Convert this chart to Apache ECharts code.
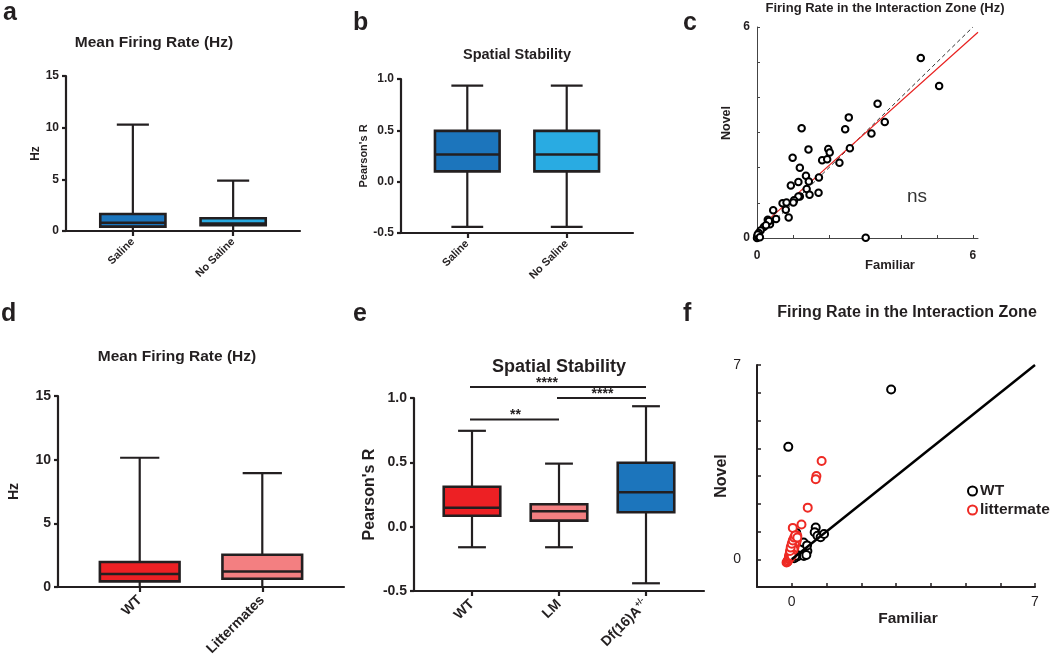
<!DOCTYPE html>
<html><head><meta charset="utf-8">
<script src="https://cdn.jsdelivr.net/npm/echarts@6/dist/echarts.min.js"></script>
<style>html,body{margin:0;padding:0;background:#fff}#c{width:1050px;height:661px}</style>
</head><body><div id="c"></div><script>
const FONT = '"Liberation Sans", Arial, Helvetica, sans-serif';
const INK = '#231f20';

// ---- Panel a: Mean Firing Rate (Hz) ----
const catsA = ['Saline', 'No Saline'];
// [min, q1, median, q3, max]
const statsA = [[0, 0.42, 0.8, 1.65, 10.3], [0, 0.55, 0.72, 1.23, 4.87]];
const colorsA = ['#1c75bc', '#29abe2'];

// ---- Panel b: Spatial Stability ----
const catsB = ['Saline', 'No Saline'];
const statsB = [[-0.44, 0.1, 0.265, 0.495, 0.935], [-0.44, 0.1, 0.265, 0.495, 0.935]];
const colorsB = ['#1c75bc', '#29abe2'];

// ---- Panel c: Firing rate in interaction zone (Familiar vs Novel) ----
const scatterC = [
  [4.55,5.12],[5.06,4.32],[3.35,3.82],[2.55,3.43],[2.45,3.09],[3.55,3.30],[3.18,2.97],
  [1.24,3.12],[1.43,2.52],[1.98,2.53],[2.02,2.43],[2.58,2.55],[0.99,2.28],[1.81,2.21],
  [1.95,2.24],[2.29,2.14],[1.19,2.00],[1.36,1.77],[1.15,1.59],[0.94,1.49],[1.44,1.61],
  [1.72,1.72],[1.38,1.39],[1.46,1.23],[1.71,1.29],[1.19,1.18],[1.15,1.18],[1.03,1.07],
  [1.01,1.01],[0.71,0.99],[0.82,1.01],[0.80,0.80],[0.88,0.58],[0.45,0.79],[0.53,0.54],
  [0.30,0.52],[0.36,0.42],[0.36,0.39],[0.19,0.31],[0.10,0.21],[0.05,0.14],[0.01,0.05],
  [0.0,0.0],[0.04,0.03],[3.02,0.01],[0.33,0.48],[0.25,0.36],[0.02,0.10],[0.08,0.02]
];
const identityC = [[0, 0], [6, 6]];
const fitC = [[0, 0.23], [6.14, 5.85]];

// ---- Panel d: Mean Firing Rate (Hz) ----
const catsD = ['WT', 'Littermates'];
const statsD = [[0, 0.44, 1.02, 1.96, 10.15], [0, 0.65, 1.22, 2.53, 8.94]];
const colorsD = ['#ed2024', '#f37f81'];

// ---- Panel e: Spatial Stability ----
const catsE = ['WT', 'LM', 'Df(16)A+/-'];
const statsE = [[-0.16, 0.085, 0.147, 0.31, 0.745], [-0.16, 0.047, 0.12, 0.174, 0.49], [-0.44, 0.112, 0.267, 0.497, 0.936]];
const colorsE = ['#ed2024', '#f37f81', '#1c75bc'];
// [from category, to category, bar height, label]
const sigE = [[1, 3, 1.086, '****'], [2, 3, 1.0, '****'], [1, 2, 0.833, '**']];

// ---- Panel f: Firing Rate in the Interaction Zone ----
const wtF = [
  [2.86,6.12],[-0.10,4.05],[0.69,1.14],[0.66,0.97],[0.74,0.85],[0.83,0.79],[0.93,0.91],
  [0.13,0.95],[0.26,0.58],[0.31,0.43],[0.40,0.34],[0.36,0.24],[0.26,0.16],[0.16,0.10],
  [0.07,0.04],[0.40,0.22],[0.21,0.34],[0.31,0.52],[0.38,0.45],[0.45,0.30],[0.30,0.30],
  [0.20,0.20],[0.10,0.12],[0.35,0.12],[0.42,0.15],[0.28,0.40],[0.34,0.60],[0.44,0.50]
];
const lmF = [
  [0.86,3.54],[0.71,3.00],[0.69,2.88],[0.46,1.86],[0.28,1.25],[0.03,1.13],
  [-0.15,-0.12],[-0.12,-0.08],[-0.1,-0.03],[-0.08,0.03],[-0.07,0.08],[-0.05,0.14],[-0.04,0.2],
  [-0.02,0.25],[0.0,0.3],[0.01,0.35],[0.02,0.4],[0.03,0.45],[0.05,0.5],[0.06,0.55],
  [0.08,0.6],[0.1,0.65],[0.12,0.7],[0.14,0.75],[0.15,0.8],[0.16,0.85],[0.12,0.82],
  [0.05,0.65],[-0.03,0.35],[0.0,0.5],[0.08,0.45],[-0.06,0.2],[0.04,0.3],[0.1,0.55],
  [-0.08,0.12],[0.02,0.6],[0.06,0.72],[0.09,0.8],[-0.02,0.45],
  [-0.13,-0.1],[-0.11,-0.05],[-0.09,0.0],[-0.07,0.02],[-0.06,0.06],[-0.04,0.1],[-0.03,0.16],
  [-0.01,0.22],[0.01,0.28],[0.03,0.38],[0.04,0.52],[0.07,0.62],[0.11,0.74],[0.13,0.86],
  [0.15,0.7],[0.13,0.6],[0.09,0.52],[0.07,0.4],[0.05,0.35],[0.02,0.2],[0.0,0.12],
  [-0.05,0.3],[-0.03,0.42],[0.0,0.56],[0.03,0.68],[0.07,0.78],[0.1,0.86],[0.16,0.78]
];
const identityF = [[0, 0], [7, 7]];

// ---------------- helpers ----------------
const BOX_W = 0.65, CAP_W = 0.32;
function boxSeries(idx, stats, colors) {
  return {
    type: 'custom', xAxisIndex: idx, yAxisIndex: idx, z: 3,
    data: stats.map((s, i) => [i + 1].concat(s)),
    encode: { x: 0, y: [1, 2, 3, 4, 5] },
    renderItem: function (params, api) {
      const x = api.value(0);
      const v = [1, 2, 3, 4, 5].map(d => api.value(d));
      const p = v.map(val => api.coord([x, val]));
      const cx = p[0][0];
      const half = api.size([BOX_W, 0])[0] / 2;
      const capHalf = api.size([CAP_W, 0])[0] / 2;
      const ws = { stroke: INK, lineWidth: 2.2 };
      return { type: 'group', children: [
        { type: 'line', shape: { x1: cx, y1: p[4][1], x2: cx, y2: p[3][1] }, style: ws },
        { type: 'line', shape: { x1: cx, y1: p[1][1], x2: cx, y2: p[0][1] }, style: ws },
        { type: 'line', shape: { x1: cx - capHalf, y1: p[4][1], x2: cx + capHalf, y2: p[4][1] }, style: ws },
        { type: 'line', shape: { x1: cx - capHalf, y1: p[0][1], x2: cx + capHalf, y2: p[0][1] }, style: ws },
        { type: 'rect', shape: { x: cx - half, y: p[3][1], width: 2 * half, height: p[1][1] - p[3][1] },
          style: { fill: colors[params.dataIndex], stroke: INK, lineWidth: 2.6 } },
        { type: 'line', shape: { x1: cx - half, y1: p[2][1], x2: cx + half, y2: p[2][1] }, style: { stroke: INK, lineWidth: 2.6 } }
      ]};
    }
  };
}
function catXAxis(idx, cats, max, fs, margin) {
  const ticks = cats.map((c, i) => i + 1);
  return {
    gridIndex: idx, type: 'value', min: 1 / 3, max: max,
    axisLine: { show: true, onZero: false, lineStyle: { color: INK, width: 2.2 } },
    axisTick: { show: true, customValues: ticks, length: 5, lineStyle: { color: INK, width: 2.2 } },
    axisLabel: { customValues: ticks, rotate: 45, margin: margin, color: INK, fontFamily: FONT,
      fontWeight: 'bold', fontSize: fs,
      formatter: v => { const s = cats[Math.round(v) - 1] || ''; return s.replace('A+/-', 'A{sup|+/-}'); },
      rich: { sup: { fontSize: fs * 0.6, fontWeight: 'bold', fontFamily: FONT, color: INK, padding: [0, 0, 9, 0] } } },
    splitLine: { show: false }
  };
}
function boxYAxis(idx, min, max, interval, fs, name, nameFs, nameGap, dec) {
  return {
    gridIndex: idx, type: 'value', min: min, max: max, interval: interval,
    axisLine: { show: true, onZero: false, lineStyle: { color: INK, width: 2.2 } },
    axisTick: { show: true, length: 4, lineStyle: { color: INK, width: 2.2 } },
    axisLabel: { margin: 7, color: INK, fontFamily: FONT, fontWeight: 'bold', fontSize: fs,
      formatter: v => dec ? v.toFixed(1) : String(v) },
    splitLine: { show: false },
    name: name, nameLocation: 'middle', nameGap: nameGap,
    nameTextStyle: { color: INK, fontFamily: FONT, fontWeight: 'bold', fontSize: nameFs }
  };
}
function txt(text, x, y, font, opts) {
  return Object.assign({ type: 'text', x: x, y: y, silent: true,
    style: { text: text, font: font, fill: INK, textAlign: 'center', textVerticalAlign: 'middle' } }, opts || {});
}
function letter(t, x, y) {
  return { type: 'text', x: x, y: y, silent: true,
    style: { text: t, font: 'bold 25px ' + FONT, fill: INK, textAlign: 'left', textVerticalAlign: 'bottom' } };
}

const chart = echarts.init(document.getElementById('c'), null, { renderer: 'canvas' });
const gridBase = { containLabel: false, outerBoundsMode: 'none' };
const option = {
  animation: false,
  backgroundColor: '#fff',
  grid: [
    Object.assign({ left: 66, top: 76, width: 234, height: 155 }, gridBase),
    Object.assign({ left: 401, top: 79, width: 232, height: 154 }, gridBase),
    Object.assign({ left: 757, top: 27, width: 221, height: 211 }, gridBase),
    Object.assign({ left: 58, top: 396, width: 286, height: 191 }, gridBase),
    Object.assign({ left: 414, top: 398, width: 290, height: 193 }, gridBase),
    Object.assign({ left: 757, top: 365, width: 278, height: 222 }, gridBase)
  ],
  xAxis: [
    catXAxis(0, catsA, 8 / 3, 11, 9),
    catXAxis(1, catsB, 8 / 3, 11, 9),
    { gridIndex: 2, type: 'value', min: 0, max: 6.14,
      axisLine: { show: true, onZero: false, lineStyle: { color: '#444', width: 1 } },
      axisTick: { show: true, inside: true, length: 3, customValues: [0, 1, 2, 3, 4, 5, 6], lineStyle: { color: '#444', width: 1 } },
      axisLabel: { customValues: [0, 6], margin: 12, color: INK, fontFamily: FONT, fontWeight: 'bold', fontSize: 12 },
      splitLine: { show: false } },
    catXAxis(3, catsD, 8 / 3, 14, 11),
    catXAxis(4, catsE, 11 / 3, 14, 11),
    { gridIndex: 5, type: 'value', min: -1, max: 7,
      axisLine: { show: true, onZero: false, lineStyle: { color: INK, width: 2 } },
      axisTick: { show: true, inside: true, length: 4, customValues: [0, 1, 2, 3, 4, 5, 6, 7], lineStyle: { color: INK, width: 1.5 } },
      axisLabel: { customValues: [0, 7], margin: 8, color: INK, fontFamily: FONT, fontSize: 14 },
      splitLine: { show: false } }
  ],
  yAxis: [
    boxYAxis(0, 0, 15, 5, 12, 'Hz', 12, 24, false),
    boxYAxis(1, -0.5, 1, 0.5, 12, "Pearson's R", 11, 26, true),
    { gridIndex: 2, type: 'value', min: 0, max: 6,
      axisLine: { show: true, onZero: false, lineStyle: { color: '#444', width: 1 } },
      axisTick: { show: true, inside: true, length: 3, customValues: [0, 1, 2, 3, 4, 5, 6], lineStyle: { color: '#444', width: 1 } },
      axisLabel: { customValues: [0, 6], margin: 7, color: INK, fontFamily: FONT, fontWeight: 'bold', fontSize: 12 },
      splitLine: { show: false } },
    boxYAxis(3, 0, 15, 5, 14, 'Hz', 14, 37, false),
    boxYAxis(4, -0.5, 1, 0.5, 14, "Pearson's R", 16, 36, true),
    { gridIndex: 5, type: 'value', min: -1, max: 7,
      axisLine: { show: true, onZero: false, lineStyle: { color: INK, width: 2 } },
      axisTick: { show: true, inside: true, length: 4, customValues: [0, 1, 2, 3, 4, 5, 6, 7], lineStyle: { color: INK, width: 1.5 } },
      axisLabel: { customValues: [0, 7], margin: 16, color: INK, fontFamily: FONT, fontSize: 14 },
      splitLine: { show: false },
      name: 'Novel', nameLocation: 'middle', nameGap: 22,
      nameTextStyle: { color: INK, fontFamily: FONT, fontWeight: 'bold', fontSize: 16 } }
  ],
  legend: {
    data: ['WT', 'littermate'], orient: 'vertical', left: 962, top: 478,
    itemWidth: 9, itemHeight: 9, itemGap: 3, itemStyle: { borderWidth: 2, opacity: 1 },
    textStyle: { color: INK, fontFamily: FONT, fontWeight: 'bold', fontSize: 15.5, padding: [0, 0, 0, -2] }
  },
  series: [
    boxSeries(0, statsA, colorsA),
    boxSeries(1, statsB, colorsB),
    { type: 'line', name: 'identity c', xAxisIndex: 2, yAxisIndex: 2, data: identityC, symbol: 'none',
      lineStyle: { color: '#333', width: 1, type: [4, 3] }, z: 2 },
    { type: 'line', name: 'fit c', xAxisIndex: 2, yAxisIndex: 2, data: fitC, symbol: 'none',
      lineStyle: { color: '#e8201f', width: 1.2 }, z: 2 },
    { type: 'scatter', name: 'cells c', xAxisIndex: 2, yAxisIndex: 2, data: scatterC,
      symbol: 'emptyCircle', symbolSize: 6.5, itemStyle: { color: '#000', borderColor: '#000', borderWidth: 1.4, opacity: 1 }, z: 3 },
    boxSeries(3, statsD, colorsD),
    boxSeries(4, statsE, colorsE),
    { type: 'custom', name: 'sig', xAxisIndex: 4, yAxisIndex: 4, clip: false, z: 4,
      data: sigE, encode: { x: [0, 1], y: 2 },
      renderItem: function (params, api) {
        const a = api.coord([api.value(0), api.value(2)]);
        const b = api.coord([api.value(1), api.value(2)]);
        const lbl = sigE[params.dataIndex][3];
        return { type: 'group', children: [
          { type: 'line', shape: { x1: a[0] - 2, y1: a[1], x2: b[0], y2: b[1] }, style: { stroke: INK, lineWidth: 2 } },
          { type: 'text', x: (a[0] + b[0]) / 2 - (params.dataIndex === 0 ? 12 : 0), y: a[1] - 4,
            style: { text: lbl, font: 'bold 14px ' + FONT, fill: INK, textAlign: 'center', textVerticalAlign: 'middle' } }
        ]};
      } },
    { type: 'scatter', name: 'WT', xAxisIndex: 5, yAxisIndex: 5, data: wtF,
      symbol: 'emptyCircle', symbolSize: 8, itemStyle: { color: '#000', borderColor: '#000', borderWidth: 2, opacity: 1 }, z: 3 },
    { type: 'scatter', name: 'littermate', xAxisIndex: 5, yAxisIndex: 5, data: lmF,
      symbol: 'emptyCircle', symbolSize: 8, itemStyle: { color: '#ee2a24', borderColor: '#ee2a24', borderWidth: 2, opacity: 1 }, z: 4 },
    { type: 'line', name: 'identity f', xAxisIndex: 5, yAxisIndex: 5, data: identityF, symbol: 'none',
      lineStyle: { color: '#000', width: 2.5 }, z: 5 }
  ],
  graphic: [
    letter('a', 3, 26), letter('b', 353, 36), letter('c', 683, 36),
    letter('d', 1, 327), letter('e', 353, 327), letter('f', 683, 327),
    txt('Mean Firing Rate (Hz)', 154, 43, 'bold 15.5px ' + FONT),
    txt('Spatial Stability', 517, 55, 'bold 14.5px ' + FONT),
    txt('Firing Rate in the Interaction Zone (Hz)', 885, 8, 'bold 13px ' + FONT),
    txt('Mean Firing Rate (Hz)', 177, 357, 'bold 15.5px ' + FONT),
    txt('Spatial Stability', 559, 367, 'bold 18px ' + FONT),
    txt('Firing Rate in the Interaction Zone', 907, 313, 'bold 16px ' + FONT),
    txt('Novel', 727, 123, 'bold 12.5px ' + FONT, { rotation: Math.PI / 2 }),
    txt('Familiar', 890, 265, 'bold 13px ' + FONT),
    txt('ns', 917, 197, '19px ' + FONT, { style: { text: 'ns', font: '19px ' + FONT, fill: '#333', textAlign: 'center', textVerticalAlign: 'middle' } }),
    txt('Familiar', 908, 619, 'bold 15.5px ' + FONT)
  ]
};
chart.setOption(option);
</script></body></html>
